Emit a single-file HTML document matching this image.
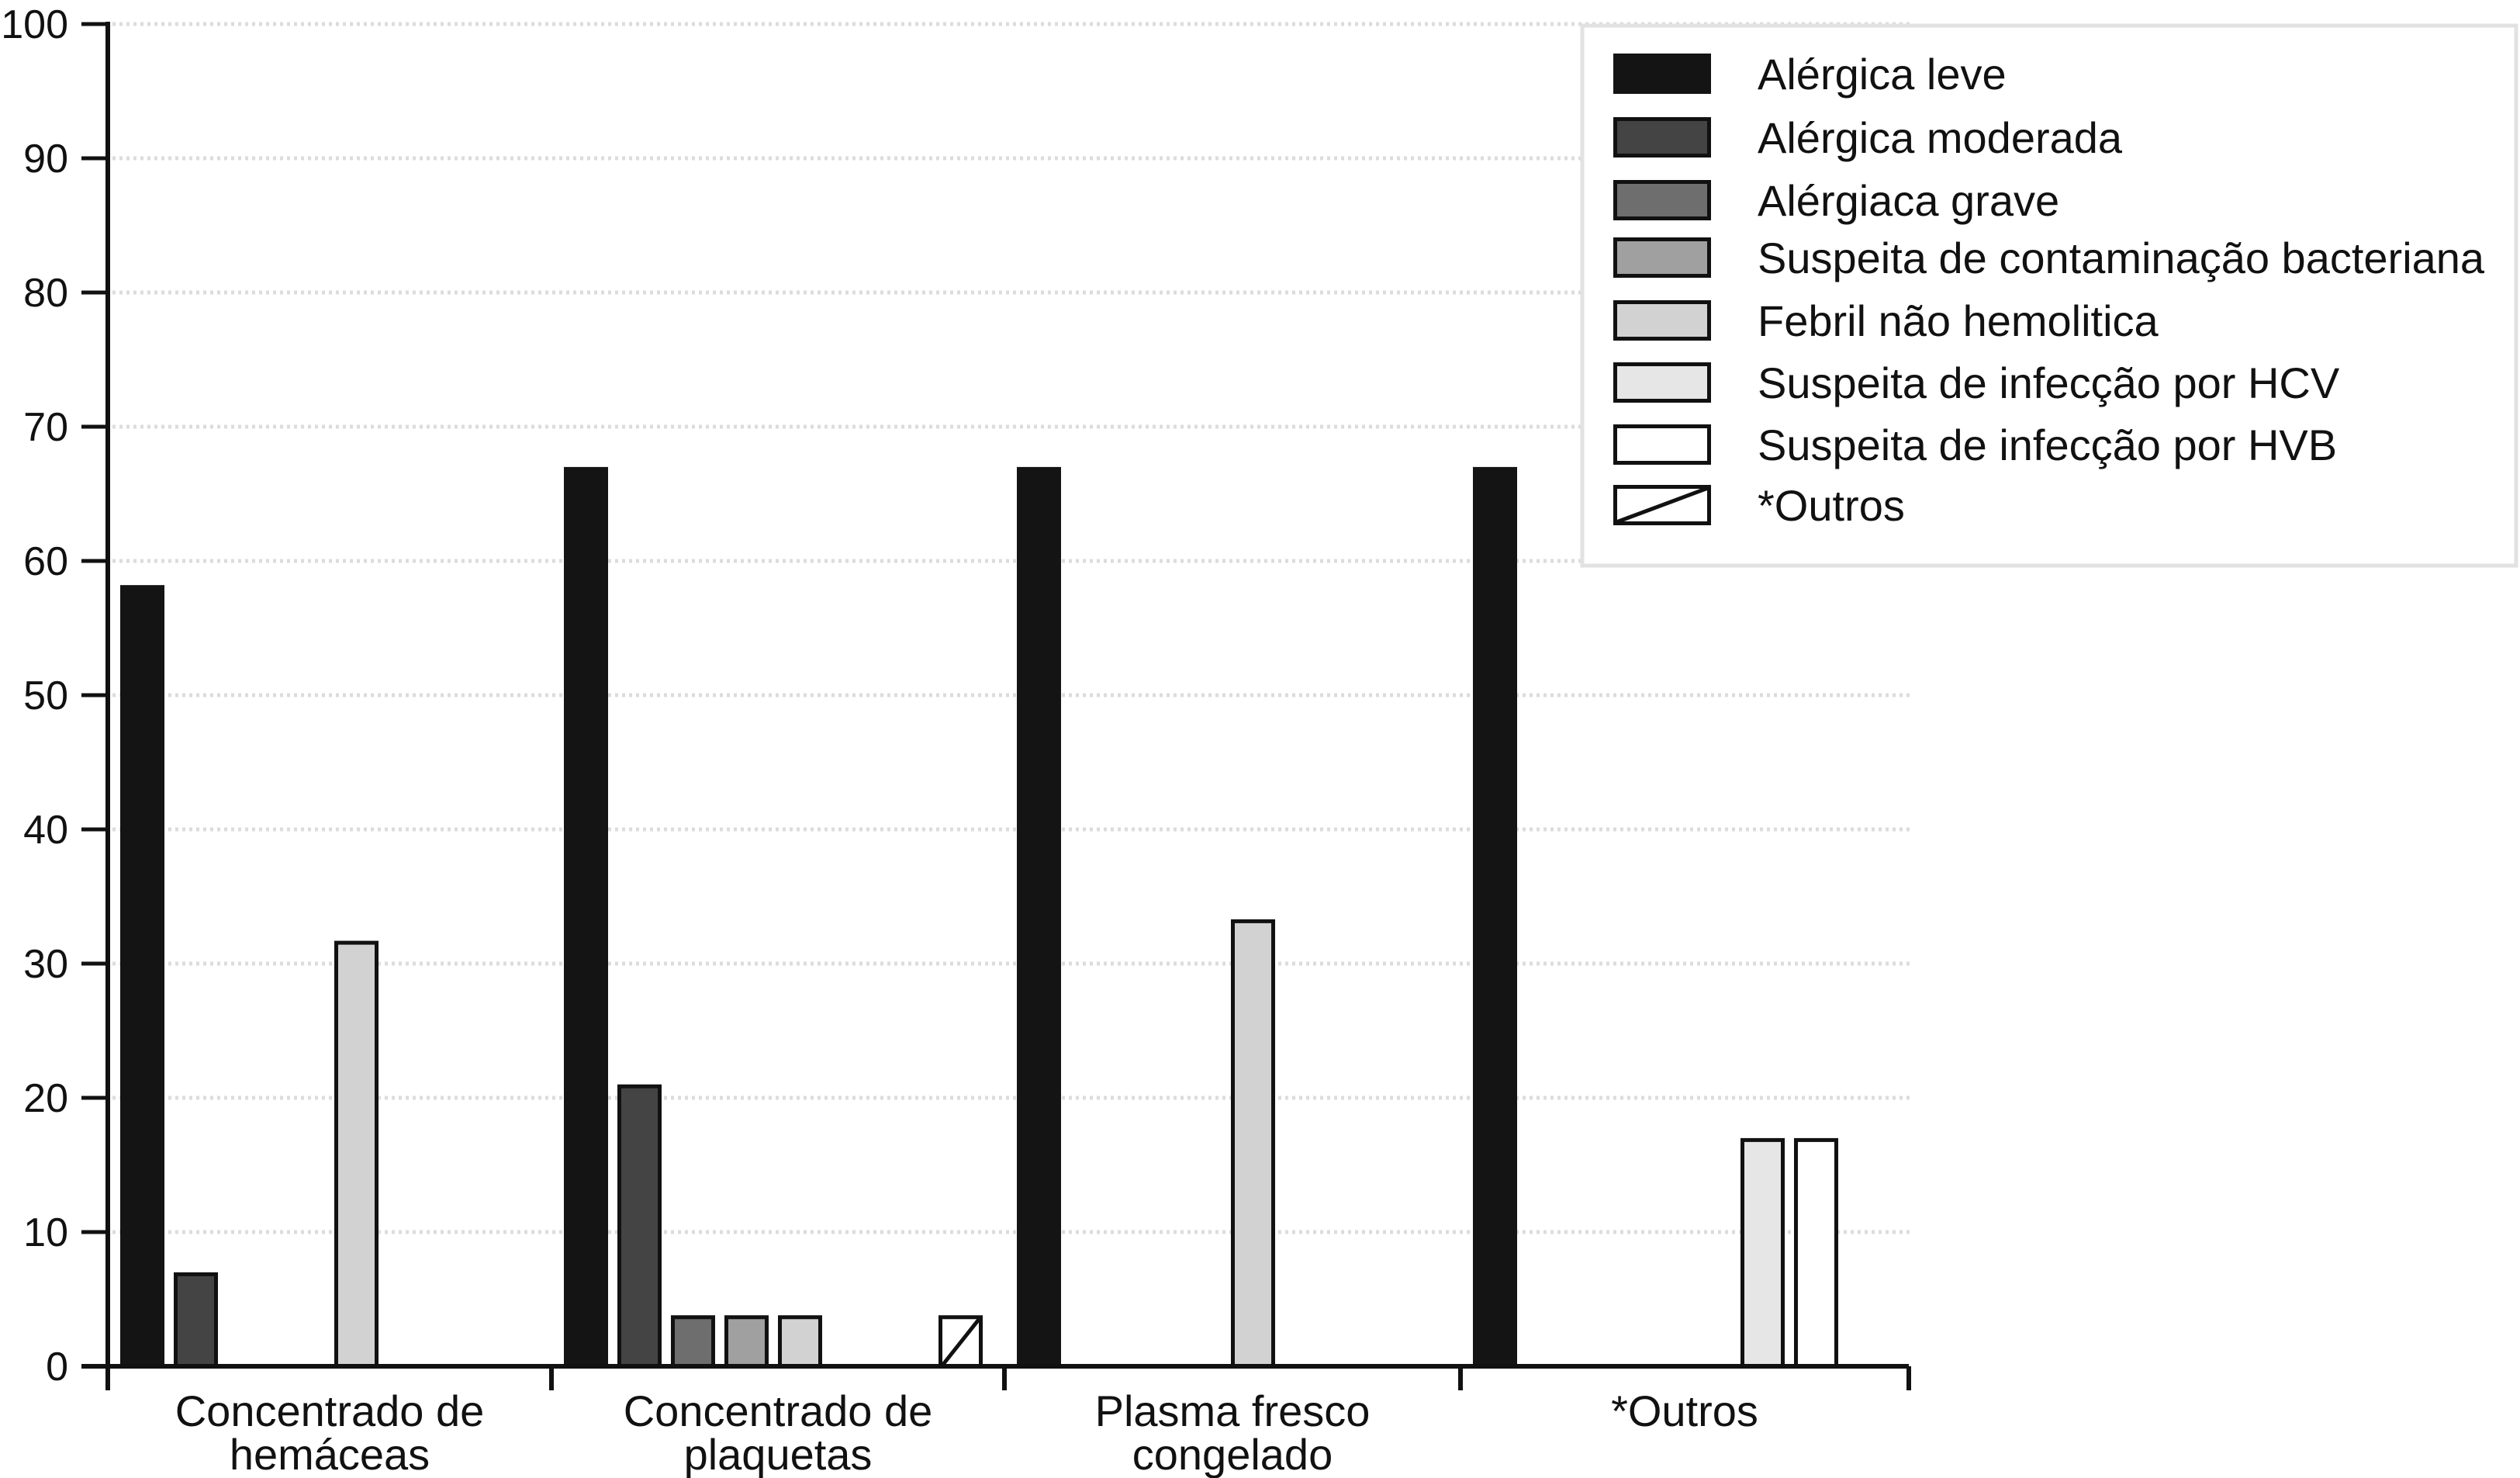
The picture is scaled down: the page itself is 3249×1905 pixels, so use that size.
<!DOCTYPE html>
<html><head><meta charset="utf-8">
<style>
html,body{margin:0;padding:0;background:#fff;}
svg{display:block;font-family:"Liberation Sans",Arial,sans-serif;}
</style></head>
<body>
<svg id="chart" width="3249" height="1905" viewBox="0 0 3249 1905" xmlns="http://www.w3.org/2000/svg"></svg>
<script>
const categories = [["Concentrado de","hemáceas"],["Concentrado de","plaquetas"],["Plasma fresco","congelado"],["*Outros"]];
const seriesNames = ["Alérgica leve","Alérgica moderada","Alérgiaca grave","Suspeita de contaminação bacteriana","Febril não hemolitica","Suspeita de infecção por HCV","Suspeita de infecção por  HVB","*Outros"];
const alergicaLeve = [58.2, 67, 67, 67];
const alergicaModerada = [7, 21, 0, 0];
const alergicaGrave = [0, 3.8, 0, 0];
const contaminacao = [0, 3.8, 0, 0];
const febril = [31.7, 3.8, 33.3, 0];
const hcv = [0, 0, 0, 17];
const hvb = [0, 0, 0, 17];
const outros = [0, 3.8, 0, 0];
const yTicks = [0,10,20,30,40,50,60,70,80,90,100];

const series = [alergicaLeve, alergicaModerada, alergicaGrave, contaminacao, febril, hcv, hvb, outros];
const fills = ["#141414","#444","#6e6e6e","#a0a0a0","#d2d2d2","#e6e6e6","#fff","#fff"];
const NS="http://www.w3.org/2000/svg";
const svg=document.getElementById('chart');
const groupEdges=[139,711,1295,1883,2461];
const X0=139, X1=2461, Y0=1761, Y100=31;
const slot=69, barW=57;
function yScale(v){return Y0-(Y0-Y100)*v/100;}
function xBar(g,s){return groupEdges[g]+16+s*slot;}
function mk(tag,attrs){const e=document.createElementNS(NS,tag);for(const k in attrs)e.setAttribute(k,attrs[k]);svg.appendChild(e);return e;}

yTicks.forEach(t=>{
  const y=yScale(t);
  if(t>0){const g=mk('line',{x1:X0+6,x2:2466,y1:y,y2:y,stroke:'#dcdcdc','stroke-width':5,'stroke-dasharray':'4 5'});
  
  }
  const tk=mk('line',{x1:105,x2:X0,y1:y,y2:y,stroke:'#111','stroke-width':5});
  
  
  const lb=mk('text',{x:88,y:y+18,'text-anchor':'end','font-size':52,fill:'#111'});
  lb.textContent=t;
  
  
});

series.forEach((vals,s)=>{
  vals.forEach((v,g)=>{
    if(v<=0)return;
    const x=xBar(g,s), y=yScale(v);
    let r;
    if(s===0){r=mk('rect',{x:x,y:y,width:barW,height:Y0-y,fill:fills[s]});}
    else{r=mk('rect',{x:x+2.5,y:y+2.5,width:barW-5,height:Y0-y-2.5,fill:fills[s],stroke:'#111','stroke-width':5});}
    
    
    if(s===7){const d=mk('line',{x1:x+4,y1:Y0,x2:x+barW-4,y2:y+4,stroke:'#111','stroke-width':5});
    
    }
  });
});

const ya=mk('line',{x1:X0,x2:X0,y1:28,y2:1792,stroke:'#111','stroke-width':6});


const xa=mk('line',{x1:105,x2:X1,y1:Y0,y2:Y0,stroke:'#111','stroke-width':6});


groupEdges.forEach(x=>{
  const t=mk('line',{x1:x,x2:x,y1:Y0,y2:1792,stroke:'#111','stroke-width':6});
  
  
});
categories.forEach((c,g)=>{
  const cx=(groupEdges[g]+groupEdges[g+1])/2;
  c.forEach((ln,i)=>{
    const t=mk('text',{x:cx,y:1838+i*56,'text-anchor':'middle','font-size':56,fill:'#111'});
    t.textContent=ln;
    
    
  });
});

const lb=mk('rect',{x:2040,y:33,width:1204,height:696,fill:'#fff',stroke:'#e2e2e2','stroke-width':5});


const rowsY=[95,177,258,332,413,493,573,651];
seriesNames.forEach((n,s)=>{
  const cy=rowsY[s];
  let r;
  if(s===0){r=mk('rect',{x:2080,y:cy-26,width:126,height:52,fill:fills[s]});}
  else{r=mk('rect',{x:2082.5,y:cy-23.5,width:121,height:47,fill:fills[s],stroke:'#111','stroke-width':5});}
  
  
  if(s===7){const d=mk('line',{x1:2084,y1:cy+22,x2:2202,y2:cy-22,stroke:'#111','stroke-width':5});
  
  }
  const t=mk('text',{x:2266,y:cy+20,'font-size':56,fill:'#111'});
  t.textContent=n;
  
  
});
</script>
</body></html>
